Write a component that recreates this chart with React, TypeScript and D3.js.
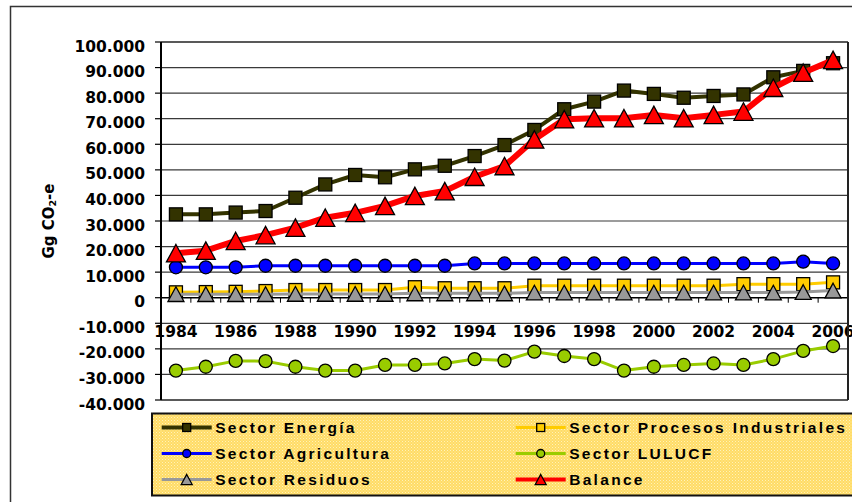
import React from "react";
import * as d3 from "d3";

const years = [1984,1985,1986,1987,1988,1989,1990,1991,1992,1993,1994,1995,1996,1997,1998,1999,2000,2001,2002,2003,2004,2005,2006];
const energia = [32600,32600,33300,33900,39100,44300,48000,47100,50200,51600,55400,59700,65600,73700,76700,81000,79700,78200,78900,79500,86200,88700,91700];
const procesos = [2100,2200,2300,2600,3000,3000,3000,3000,4100,3700,3700,3700,4700,4700,4700,4700,4700,4700,4700,5300,5300,5300,6000];
const agricultura = [11900,11900,11900,12500,12500,12500,12500,12500,12500,12500,13400,13400,13400,13400,13400,13400,13400,13400,13400,13400,13400,14100,13400];
const lulucf = [-28500,-27000,-24700,-24800,-27000,-28500,-28500,-26300,-26300,-25700,-24000,-24600,-21100,-22800,-24000,-28500,-27000,-26300,-25700,-26300,-24000,-20800,-18900];
const residuos = [1400,1400,1400,1400,1500,1500,1500,1500,1700,1700,1700,1700,2000,2000,2000,2000,2000,2000,2000,2000,2000,2200,2800];
const balance = [17400,18400,22200,24500,27400,31300,33200,35900,39800,41700,47300,51500,61900,69800,70200,70200,71500,70200,71500,72800,82100,88000,93000];

const yTicks = [100000,90000,80000,70000,60000,50000,40000,30000,20000,10000,0,-10000,-20000,-30000,-40000];
const xLabelYears = [1984,1986,1988,1990,1992,1994,1996,1998,2000,2002,2004,2006];

type Marker = "square" | "circle" | "triangle";
interface Series { name: string; values: number[]; color: string; lineWidth: number; marker: Marker; size: number; }

const series: Series[] = [
  { name: "Sector Energía", values: energia, color: "#333300", lineWidth: 4, marker: "square", size: 13 },
  { name: "Sector Procesos Industriales", values: procesos, color: "#FFCC00", lineWidth: 3, marker: "square", size: 13 },
  { name: "Sector Agricultura", values: agricultura, color: "#0000FF", lineWidth: 3, marker: "circle", size: 13 },
  { name: "Sector LULUCF", values: lulucf, color: "#99CC00", lineWidth: 3, marker: "circle", size: 13 },
  { name: "Sector Residuos", values: residuos, color: "#999999", lineWidth: 3, marker: "triangle", size: 16 },
  { name: "Balance", values: balance, color: "#FF0000", lineWidth: 6, marker: "triangle", size: 19 },
];

const fmt = (v: number) => {
  const s = Math.abs(v).toString().replace(/\B(?=(\d{3})+(?!\d))/g, ".");
  return (v < 0 ? "-" : "") + s;
};

function MarkerShape({ type, x, y, size, fill }: { type: Marker; x: number; y: number; size: number; fill: string }) {
  const h = size / 2;
  if (type === "square") return <rect x={x - h} y={y - h} width={size} height={size} fill={fill} stroke="#000" strokeWidth={1.3} />;
  if (type === "circle") return <circle cx={x} cy={y} r={h} fill={fill} stroke="#000" strokeWidth={1.3} />;
  const th = size * 0.92;
  return <path d={`M${x},${y - th / 2}L${x + h},${y + th / 2}L${x - h},${y + th / 2}Z`} fill={fill} stroke="#000" strokeWidth={1.3} strokeLinejoin="miter" />;
}

export default function App() {
  const left = 161, right = 848, top = 42, bottom = 400;
  const x = d3.scaleBand<number>().domain(years).range([left, right]).padding(0);
  const y = d3.scaleLinear().domain([-40000, 100000]).range([bottom, top]);
  const cx = (yr: number) => (x(yr) as number) + x.bandwidth() / 2;
  const line = d3.line<number>().x((_, i) => cx(years[i])).y((v) => y(v));
  const y0 = y(0);

  const legendRows = [
    [series[0], series[1]],
    [series[2], series[3]],
    [series[4], series[5]],
  ];
  const legendCols = [161.7, 515.7];
  const legendRowY = [427.5, 453.5, 479.5];
  const legendMarkerSize: Record<Marker, number> = { square: 8, circle: 8, triangle: 11 };

  return (
    <svg width={852} height={502} style={{ position: "absolute", left: 0, top: 0 }} xmlns="http://www.w3.org/2000/svg">
      <defs>
        <pattern id="legfill" width={3} height={3} patternUnits="userSpaceOnUse">
          <rect width={3} height={3} fill="#FFDB66" />
          <rect x={0} y={0} width={1} height={1} fill="#FFF3B8" />
          <rect x={1.5} y={1.5} width={1} height={1} fill="#FFEFA6" />
        </pattern>
      </defs>
      <rect x={0} y={0} width={852} height={502} fill="#fff" />
      <rect x={10.5} y={6.5} width={860} height={510} fill="#fff" stroke="#333" strokeWidth={1.5} />

      {/* gridlines */}
      {yTicks.filter((t) => t !== 100000 && t !== -40000 && t !== 0).map((t) => (
        <line key={t} x1={left} x2={right} y1={y(t)} y2={y(t)} stroke="#3a3a3a" strokeWidth={1.2} />
      ))}

      {/* y tick labels */}
      {yTicks.map((t) => (
        <g key={t}>
          <line x1={left - 6} x2={left} y1={y(t)} y2={y(t)} stroke="#000" strokeWidth={1.2} />
          <text x={145} y={y(t) + 9.6} textAnchor="end" fontFamily="DejaVu Sans" fontWeight="bold" fontSize={15.5} fill="#000">{fmt(t)}</text>
        </g>
      ))}

      {/* y title */}
      <text transform="translate(53.5,221) rotate(-90)" textAnchor="middle" fontFamily="DejaVu Sans" fontWeight="bold" fontSize={15} fill="#000">
        Gg CO<tspan fontSize={9.5} dy={2}>2</tspan><tspan dy={-2}>-e</tspan>
      </text>

      {/* x axis and ticks */}
      <line x1={left} x2={right} y1={y0} y2={y0} stroke="#000" strokeWidth={1.5} />
      {years.slice(1).map((yr) => (
        <line key={yr} x1={x(yr) as number} x2={x(yr) as number} y1={y0} y2={y0 + 5} stroke="#000" strokeWidth={1} />
      ))}
      {xLabelYears.map((yr) => (
        <text key={yr} x={cx(yr)} y={336.5} textAnchor="middle" fontFamily="DejaVu Sans" fontWeight="bold" fontSize={15.5} fill="#000">{yr}</text>
      ))}

      {/* series */}
      {series.map((s) => (
        <g key={s.name}>
          <path d={line(s.values) || ""} fill="none" stroke={s.color} strokeWidth={s.lineWidth} strokeLinejoin="round" strokeLinecap="round" />
          {s.values.map((v, i) => (
            <MarkerShape key={i} type={s.marker} x={cx(years[i])} y={y(v)} size={s.size} fill={s.color} />
          ))}
        </g>
      ))}

      {/* plot frame */}
      <line x1={left} x2={right} y1={top} y2={top} stroke="#222" strokeWidth={1.5} />
      <line x1={right} x2={right} y1={top} y2={bottom} stroke="#222" strokeWidth={2} />
      <line x1={left} x2={right} y1={bottom} y2={bottom} stroke="#222" strokeWidth={1.5} />
      <line x1={left} x2={left} y1={top} y2={bottom} stroke="#000" strokeWidth={2} />

      {/* legend */}
      <rect x={152} y={413.5} width={710} height={82} fill="url(#legfill)" stroke="#111" strokeWidth={2} />
      {legendRows.map((row, ri) =>
        row.map((s, ci) => {
          const lx = legendCols[ci];
          const ly = legendRowY[ri];
          return (
            <g key={s.name}>
              <line x1={lx} x2={lx + 50} y1={ly} y2={ly} stroke={s.color} strokeWidth={Math.min(s.lineWidth, 4)} />
              <MarkerShape type={s.marker} x={lx + 25} y={ly} size={legendMarkerSize[s.marker]} fill={s.color} />
              <text x={lx + 53.5} y={ly + 5.6} fontFamily="Liberation Sans, Arial, sans-serif" fontWeight="bold" fontSize={15.5} letterSpacing={2.3} fill="#000">{s.name}</text>
            </g>
          );
        })
      )}
    </svg>
  );
}
